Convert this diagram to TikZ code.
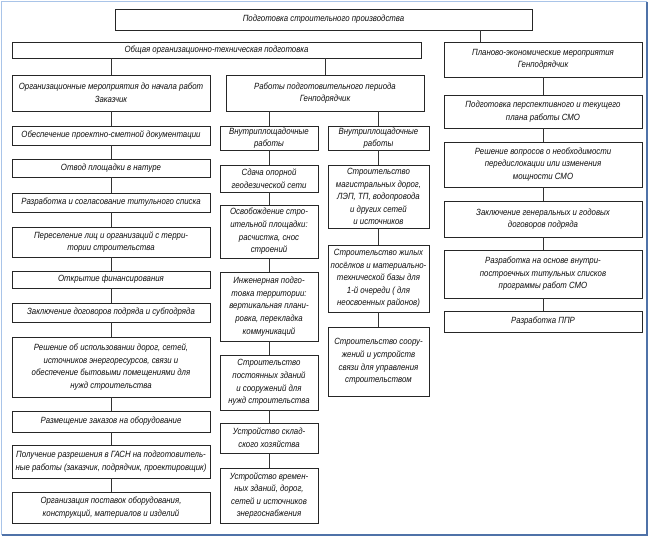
\documentclass[tikz,border=0pt]{standalone}
\usepackage{fontspec}
\newfontfamily\dfont{Liberation Sans}[FakeStretch=0.87]
\definecolor{frlight}{HTML}{A9C4E8}
\definecolor{frdark}{HTML}{4F72A8}
\newcommand\mybox[6]{%
 \pgfmathsetmacro\bw{#4-#2}\pgfmathsetmacro\bh{#5-#3}%
 \node[bx, minimum width=\bw pt, minimum height=\bh pt] (#1) at ({(#2+#4)/2},{(#3+#5)/2}) {#6};}
\begin{document}
\begin{tikzpicture}[x=1pt,y=-1pt,
 bx/.style={draw=black!85, line width=0.8pt, align=center, inner sep=0pt,
   font=\dfont\itshape\fontsize{9}{12.6}\selectfont, text=black!95},
 cn/.style={draw=black!80, line width=0.7pt}]
\useasboundingbox (0,0) rectangle (650,541);
\fill[white] (0,0) rectangle (650,541);
\draw[frlight, line width=1pt] (1.5,535) -- (1.5,1.5) -- (647,1.5);
\draw[frdark, line width=1.5pt] (647,1.5) -- (647,535) -- (1.5,535);
% top levels
\mybox{top}{115}{9}{532}{30}{Подготовка строительного производства}
\mybox{gen}{12}{42}{421}{58}{Общая организационно-техническая подготовка}
\mybox{plan}{444}{42}{642}{77}{Планово-экономические мероприятия\\Генподрядчик}
\mybox{org}{12}{75}{210}{111}{Организационные мероприятия до начала работ\\Заказчик}
\mybox{rab}{226}{75}{424}{111}{Работы подготовительного периода\\Генподрядчик}
% left column
\mybox{l2}{12}{126}{210}{145}{Обеспечение проектно-сметной документации}
\mybox{l3}{12}{159}{210}{177}{Отвод площадки в натуре}
\mybox{l4}{12}{193}{210}{212}{Разработка и согласование титульного списка}
\mybox{l5}{12}{227}{210}{257}{Переселение лиц и организаций с терри-\\тории строительства}
\mybox{l6}{12}{271}{210}{288}{Открытие финансирования}
\mybox{l7}{12}{303}{210}{322}{Заключение договоров подряда и субподряда}
\mybox{l8}{12}{337}{210}{397}{Решение об использовании дорог, сетей,\\источников энергоресурсов, связи и\\обеспечение бытовыми помещениями для\\нужд строительства}
\mybox{l9}{12}{411}{210}{432}{Размещение заказов на оборудование}
\mybox{l10}{12}{445}{210}{478}{Получение разрешения в ГАСН на подготовитель-\\ные работы (заказчик, подрядчик, проектировщик)}
\mybox{l11}{12}{492}{210}{523}{Организация поставок оборудования,\\конструкций, материалов и изделий}
% column A
\mybox{a1}{220}{126}{318}{150}{Внутриплощадочные\\работы}
\mybox{a2}{220}{165}{318}{192}{Сдача опорной\\геодезической сети}
\mybox{a3}{220}{205}{318}{258}{Освобождение стро-\\ительной площадки:\\расчистка, снос\\строений}
\mybox{a4}{220}{272}{318}{341}{Инженерная подго-\\товка территории:\\вертикальная плани-\\ровка, перекладка\\коммуникаций}
\mybox{a5}{220}{355}{318}{410}{Строительство\\постоянных зданий\\и сооружений для\\нужд строительства}
\mybox{a6}{220}{423}{318}{453}{Устройство склад-\\ского хозяйства}
\mybox{a7}{220}{468}{318}{523}{Устройство времен-\\ных зданий, дорог,\\сетей и источников\\энергоснабжения}
% column B
\mybox{b1}{328}{126}{429}{150}{Внутриплощадочные\\работы}
\mybox{b2}{328}{165}{429}{228}{Строительство\\магистральных дорог,\\ЛЭП, ТП, водопровода\\и других сетей\\и источников}
\mybox{b3}{328}{245}{429}{312}{Строительство жилых\\посёлков и материально-\\технической базы для\\1-й очереди ( для\\неосвоенных районов)}
\mybox{b4}{328}{327}{429}{396}{Строительство соору-\\жений и устройств\\связи для управления\\строительством}
% right column
\mybox{r1}{444}{95}{642}{128}{Подготовка перспективного и текущего\\плана работы СМО}
\mybox{r2}{444}{142}{642}{187}{Решение вопросов о необходимости\\передислокации или изменения\\мощности СМО}
\mybox{r3}{444}{201}{642}{237}{Заключение генеральных и годовых\\договоров подряда}
\mybox{r4}{444}{250}{642}{298}{Разработка на основе внутри-\\построечных титульных списков\\программы работ СМО}
\mybox{r5}{444}{311}{642}{332}{Разработка ППР}
% connectors
\coordinate (tp) at (480,0);
\draw[cn] (top.south -| tp) -- (plan.north -| tp);
\draw[cn] (gen.south -| org.north) -- (org.north);
\draw[cn] (gen.south -| rab.north) -- (rab.north);
\draw[cn] (org) -- (l2) -- (l3) -- (l4) -- (l5) -- (l6) -- (l7) -- (l8) -- (l9) -- (l10) -- (l11);
\draw[cn] (rab.south -| a1.north) -- (a1.north);
\draw[cn] (rab.south -| b1.north) -- (b1.north);
\draw[cn] (a1) -- (a2) -- (a3) -- (a4) -- (a5) -- (a6) -- (a7);
\draw[cn] (b1) -- (b2) -- (b3) -- (b4);
\draw[cn] (plan) -- (r1) -- (r2) -- (r3) -- (r4) -- (r5);
\end{tikzpicture}
\end{document}
